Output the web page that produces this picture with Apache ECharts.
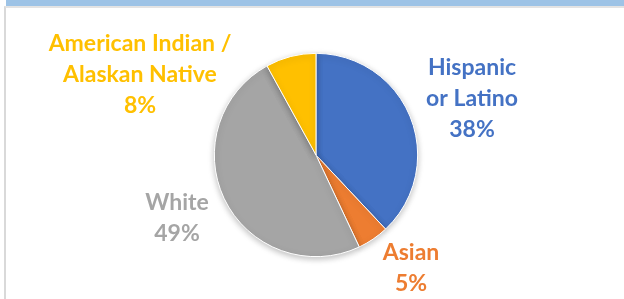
<!DOCTYPE html>
<html>
<head>
<meta charset="utf-8">
<script src="https://cdn.jsdelivr.net/npm/echarts@6/dist/echarts.min.js"></script>
<style>
    html, body { margin: 0; padding: 0; background: #fff; }
    .topbar { position: absolute; left: 6px; top: 0; width: 618px; height: 6px; background: #9DC3E6; }
    .frame { position: absolute; left: 4px; top: 6px; width: 620px; height: 293px;
             border-left: 2px solid #D9D9D9; border-top: 2px solid #E3E3E3; box-sizing: border-box; }
    #chart { position: absolute; left: 0; top: 0; width: 624px; height: 299px; }
</style>
</head>
<body>
<div class="topbar"></div>
<div class="frame"></div>
<div id="chart"></div>
<script>
    // groups, shares (percent) and colours
    var groups = ['Hispanic\nor Latino', 'Asian', 'White', 'American Indian /\nAlaskan Native'];
    var shares = [38, 5, 49, 8];
    var colors = ['#4472C4', '#ED7D31', '#A5A5A5', '#FFC000'];

    // where each data label sits (centre of the text block)
    var labelSpots = [[472, 99], [411, 268], [177, 218], [140, 75]];

    var chart = echarts.init(document.getElementById('chart'));
    chart.setOption({
        animation: false,
        series: [
            {
                name: 'Population',
                type: 'pie',
                radius: '68%',
                center: [316, 155],
                startAngle: 90,
                clockwise: true,
                label: {
                    show: true,
                    position: 'outside',
                    formatter: '{b}\n{c}%',
                    fontFamily: 'Lato',
                    fontWeight: 'bold',
                    fontSize: 23,
                    lineHeight: 31,
                    align: 'center'
                },
                labelLine: { show: false },
                labelLayout: function (params) {
                    var p = labelSpots[params.dataIndex];
                    return { x: p[0], y: p[1], align: 'center', verticalAlign: 'middle' };
                },
                itemStyle: {
                    borderColor: '#fff',
                    borderWidth: 1,
                    shadowBlur: 6,
                    shadowOffsetY: 2,
                    shadowColor: 'rgba(0,0,0,0.25)'
                },
                emphasis: { disabled: true },
                data: groups.map(function (g, i) {
                    return {
                        name: g,
                        value: shares[i],
                        itemStyle: { color: colors[i] },
                        label: { color: colors[i] }
                    };
                })
            }
        ]
    });
</script>
</body>
</html>
